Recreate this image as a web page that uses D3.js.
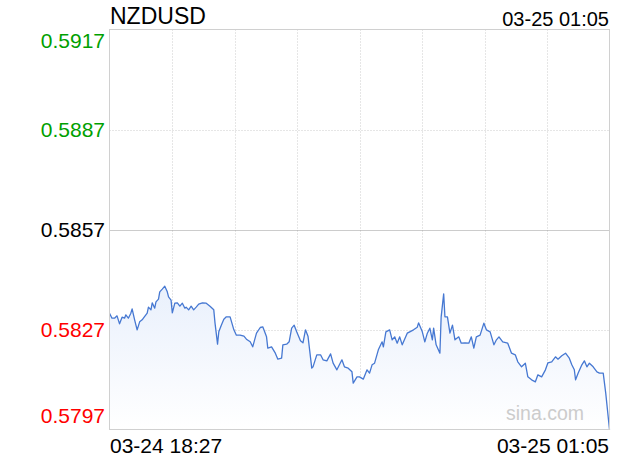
<!DOCTYPE html>
<html>
<head>
<meta charset="utf-8">
<script src="https://cdn.jsdelivr.net/npm/d3@7/dist/d3.min.js"></script>
<style>
  html, body { margin: 0; padding: 0; background: #fff; }
  svg { display: block; }
  text { font-family: "Liberation Sans", Arial, Helvetica, sans-serif; }
</style>
</head>
<body>
<svg id="chart" width="620" height="460"></svg>
<script>
// ---- data ----
const symbol = "NZDUSD";
const startLabel = "03-24 18:27";
const endLabel = "03-25 01:05";
const prevClose = 0.5857;
const yTicks = [0.5917, 0.5887, 0.5857, 0.5827, 0.5797];
const gridDivisions = 8;
const totalMinutes = 398;
// minutes since 18:27
const minutes = [0,2,4,6,8,10,12,13,15,17,18,20,22,24,26,27,30,31,33,34,36,37,39,40,42,44,46,47,49,50,
  52,54,56,58,60,61,63,65,67,69,71,74,77,80,83,84,86,87,89,91,93,96,99,101,104,107,109,112,114,117,
  120,122,125,126,129,132,134,137,138,141,143,145,147,149,152,154,156,158,161,162,165,168,170,173,176,178,181,185,187,190,
  193,194,197,199,202,205,207,209,211,214,217,218,220,223,225,227,229,231,233,237,239,242,245,246,249,251,253,255,257,258,
  260,263,264,266,267,269,271,273,275,278,280,283,286,288,290,292,295,298,300,303,306,308,310,313,317,320,323,325,328,331,
  333,336,339,341,344,347,349,352,355,357,360,363,366,368,370,371,373,376,378,380,382,385,388,390,393,395,398];
const prices = [0.58319,0.58304,0.58304,0.58311,0.58287,0.58307,0.58304,0.58314,0.58304,0.58319,0.58332,0.58299,0.58269,0.58293,0.58299,0.58304,0.58319,0.58337,0.58329,0.58350,
  0.58334,0.58353,0.58361,0.58383,0.58391,0.58400,0.58383,0.58368,0.58358,0.58320,0.58349,0.58350,0.58340,0.58349,0.58334,0.58337,0.58329,0.58340,0.58329,0.58337,
  0.58346,0.58350,0.58349,0.58340,0.58329,0.58289,0.58226,0.58263,0.58283,0.58301,0.58308,0.58308,0.58269,0.58253,0.58253,0.58250,0.58241,0.58233,0.58218,0.58259,
  0.58276,0.58278,0.58248,0.58214,0.58218,0.58199,0.58181,0.58184,0.58224,0.58226,0.58233,0.58274,0.58283,0.58263,0.58236,0.58230,0.58269,0.58250,0.58154,0.58158,
  0.58194,0.58194,0.58179,0.58176,0.58197,0.58169,0.58149,0.58179,0.58158,0.58154,0.58143,0.58109,0.58128,0.58128,0.58121,0.58149,0.58139,0.58164,0.58169,0.58209,
  0.58233,0.58218,0.58263,0.58269,0.58239,0.58248,0.58229,0.58248,0.58224,0.58259,0.58263,0.58269,0.58277,0.58290,0.58263,0.58233,0.58259,0.58274,0.58239,0.58274,
  0.58224,0.58199,0.58308,0.58377,0.58308,0.58308,0.58259,0.58283,0.58239,0.58248,0.58229,0.58230,0.58229,0.58248,0.58214,0.58248,0.58253,0.58289,0.58269,0.58263,
  0.58224,0.58239,0.58248,0.58233,0.58229,0.58199,0.58194,0.58173,0.58158,0.58169,0.58128,0.58119,0.58113,0.58134,0.58128,0.58149,0.58170,0.58173,0.58188,0.58181,
  0.58191,0.58199,0.58184,0.58164,0.58149,0.58119,0.58139,0.58164,0.58176,0.58158,0.58169,0.58158,0.58143,0.58139,0.58139,0.58079,0.57970];

const data = minutes.map((m, i) => ({ m, p: prices[i] }));

// ---- layout ----
const svg = d3.select("#chart");
const plotLeft = 109.5, plotRight = 609.5, plotTop = 29.5, plotBottom = 429.5;

const x = d3.scaleLinear().domain([0, totalMinutes]).range([plotLeft, plotRight]);
const y = d3.scaleLinear().domain([yTicks[yTicks.length - 1], yTicks[0]]).range([plotBottom, plotTop]);

// gradient
const defs = svg.append("defs");
const grad = defs.append("linearGradient").attr("id", "areaGrad")
  .attr("x1", 0).attr("y1", 0).attr("x2", 0).attr("y2", 1);
grad.append("stop").attr("offset", "0%").attr("stop-color", "#e9f0fc");
grad.append("stop").attr("offset", "100%").attr("stop-color", "#ffffff");

// vertical grid
const vTicks = d3.range(1, gridDivisions).map(i => i * totalMinutes / gridDivisions);
svg.append("g").selectAll("line").data(vTicks).join("line")
  .attr("x1", d => Math.round(x(d)) + 0.5).attr("x2", d => Math.round(x(d)) + 0.5)
  .attr("y1", plotTop).attr("y2", plotBottom)
  .attr("stroke", "#cccccc").attr("stroke-width", 1).attr("stroke-dasharray", "1,2");

// horizontal grid
svg.append("g").selectAll("line").data(yTicks.slice(1, -1)).join("line")
  .attr("x1", plotLeft).attr("x2", plotRight)
  .attr("y1", d => Math.round(y(d)) + 0.5).attr("y2", d => Math.round(y(d)) + 0.5)
  .attr("stroke", d => d === prevClose ? "#999999" : "#cccccc")
  .attr("stroke-width", 1)
  .attr("stroke-dasharray", d => d === prevClose ? "1,1" : "1,2");

// area
const area = d3.area().x(d => x(d.m)).y0(plotBottom).y1(d => y(d.p));
svg.append("path").datum(data).attr("d", area).attr("fill", "url(#areaGrad)");

// line
const line = d3.line().x(d => x(d.m)).y(d => y(d.p));
svg.append("path").datum(data).attr("d", line)
  .attr("fill", "none").attr("stroke", "#4678d2").attr("stroke-width", 1.3)
  .attr("stroke-linejoin", "round");

// frame
svg.append("rect").attr("x", plotLeft).attr("y", plotTop)
  .attr("width", plotRight - plotLeft).attr("height", plotBottom - plotTop)
  .attr("fill", "none").attr("stroke", "#d0d0d0").attr("stroke-width", 1);

// y labels
svg.append("g").selectAll("text").data(yTicks).join("text")
  .attr("x", 105)
  .attr("y", (d, i) => i === 0 ? y(d) + 18 : (i === yTicks.length - 1 ? y(d) - 6.5 : y(d) + 7.5))
  .attr("text-anchor", "end")
  .attr("font-size", 21)
  .attr("fill", d => d > prevClose ? "#00a000" : (d < prevClose ? "#ff0000" : "#000000"))
  .text(d => d.toFixed(4));

// title & time labels
svg.append("text").attr("x", 110).attr("y", 24).attr("font-size", 23).attr("fill", "#000").text(symbol);
svg.append("text").attr("x", 609).attr("y", 26).attr("font-size", 20).attr("text-anchor", "end").attr("fill", "#000").text(endLabel);
svg.append("text").attr("x", 110).attr("y", 453).attr("font-size", 21).attr("fill", "#000").text(startLabel);
svg.append("text").attr("x", 609).attr("y", 453).attr("font-size", 21).attr("text-anchor", "end").attr("fill", "#000").text(endLabel);

// watermark
svg.append("text").attr("x", 506).attr("y", 420).attr("font-size", 19.5).attr("fill", "#cccccc").text("sina.com");
</script>
</body>
</html>
